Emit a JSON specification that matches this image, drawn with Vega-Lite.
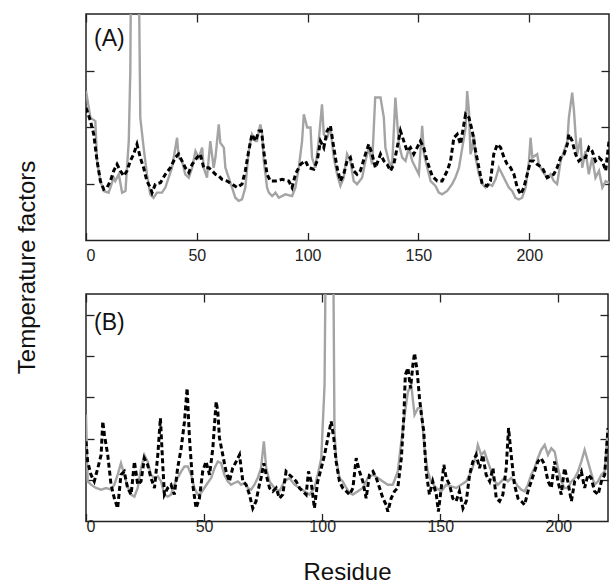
{
  "$schema": "https://vega.github.io/schema/vega-lite/v6.json",
  "background": "white",
  "padding": {"left": 14, "top": 12, "right": 0, "bottom": 0},
  "bounds": "flush",
  "spacing": 53,
  "config": {
    "view": {"stroke": "#222", "strokeWidth": 1.5},
    "font": "Liberation Sans",
    "axis": {"grid": false, "domain": false, "tickSize": -8, "tickColor": "#222", "tickWidth": 1.3, "labelFont": "Liberation Sans", "labelFontSize": 16, "labelColor": "#222", "titleFont": "Liberation Sans", "titleFontWeight": "normal", "titleColor": "#111"}
  },
  "datasets": {
    "A": [
      {"s":"g","r":0,"v":52.8},{"s":"g","r":2,"v":43.4},{"s":"g","r":4.2,"v":42.2},{"s":"g","r":5,"v":28.1},{"s":"g","r":6.5,"v":21.0},{"s":"g","r":8,"v":17.5},{"s":"g","r":10.2,"v":16.9},{"s":"g","r":11,"v":18.7},{"s":"g","r":12.5,"v":22.2},{"s":"g","r":13.2,"v":21.0},{"s":"g","r":14.8,"v":23.4},{"s":"g","r":16.3,"v":16.9},{"s":"g","r":17.8,"v":17.5},{"s":"g","r":19.3,"v":35.1},{"s":"g","r":20,"v":60},{"s":"g","r":20.5,"v":120},{"s":"g","r":23.5,"v":120},{"s":"g","r":24.5,"v":43.4},{"s":"g","r":26,"v":32.8},{"s":"g","r":27.5,"v":23.4},{"s":"g","r":29,"v":16.3},{"s":"g","r":30.5,"v":15.1},{"s":"g","r":32,"v":16.9},{"s":"g","r":34.3,"v":16.9},{"s":"g","r":35.8,"v":18.7},{"s":"g","r":38.8,"v":25.7},{"s":"g","r":41.1,"v":36.3},{"s":"g","r":41.8,"v":29.3},{"s":"g","r":43.3,"v":28.1},{"s":"g","r":44.8,"v":23.4},{"s":"g","r":46.4,"v":22.2},{"s":"g","r":47.9,"v":25.7},{"s":"g","r":49.4,"v":31.6},{"s":"g","r":50.9,"v":29.3},{"s":"g","r":52.4,"v":32.8},{"s":"g","r":53.1,"v":25.7},{"s":"g","r":54.6,"v":22.2},{"s":"g","r":56.1,"v":35.1},{"s":"g","r":57.6,"v":25.7},{"s":"g","r":58.4,"v":29.3},{"s":"g","r":59.9,"v":41.0},{"s":"g","r":60.6,"v":34.5},{"s":"g","r":62.2,"v":32.8},{"s":"g","r":62.9,"v":25.7},{"s":"g","r":64.4,"v":22.2},{"s":"g","r":65.9,"v":18.7},{"s":"g","r":67.4,"v":15.1},{"s":"g","r":68.9,"v":14.0},{"s":"g","r":70.4,"v":14.5},{"s":"g","r":71.9,"v":18.7},{"s":"g","r":73.4,"v":31.6},{"s":"g","r":74.9,"v":37.5},{"s":"g","r":76.5,"v":35.1},{"s":"g","r":77.2,"v":35.1},{"s":"g","r":78,"v":38.7},{"s":"g","r":78.7,"v":41.0},{"s":"g","r":79.5,"v":37.5},{"s":"g","r":80.2,"v":28.1},{"s":"g","r":81,"v":23.4},{"s":"g","r":81.7,"v":18.7},{"s":"g","r":82.5,"v":16.9},{"s":"g","r":84,"v":15.7},{"s":"g","r":85.5,"v":16.9},{"s":"g","r":87,"v":15.1},{"s":"g","r":90,"v":16.3},{"s":"g","r":93,"v":15.7},{"s":"g","r":94.5,"v":18.7},{"s":"g","r":96,"v":25.7},{"s":"g","r":97.5,"v":35.1},{"s":"g","r":98.3,"v":44.6},{"s":"g","r":99.8,"v":39.9},{"s":"g","r":101.3,"v":39.9},{"s":"g","r":102,"v":29.3},{"s":"g","r":103.5,"v":25.7},{"s":"g","r":105,"v":35.1},{"s":"g","r":106.5,"v":48.1},{"s":"g","r":107.3,"v":37.5},{"s":"g","r":108.8,"v":36.3},{"s":"g","r":110.3,"v":39.9},{"s":"g","r":111.8,"v":29.3},{"s":"g","r":113.3,"v":23.4},{"s":"g","r":114.8,"v":19.3},{"s":"g","r":116.3,"v":22.2},{"s":"g","r":117.8,"v":30.5},{"s":"g","r":119.3,"v":28.1},{"s":"g","r":120.8,"v":21.0},{"s":"g","r":122.3,"v":19.9},{"s":"g","r":124.6,"v":22.2},{"s":"g","r":126.1,"v":28.1},{"s":"g","r":127.6,"v":32.8},{"s":"g","r":129.1,"v":26.9},{"s":"g","r":130.5,"v":50.5},{"s":"g","r":132.9,"v":50.5},{"s":"g","r":134.4,"v":43.4},{"s":"g","r":135.1,"v":32.8},{"s":"g","r":136.6,"v":28.1},{"s":"g","r":138.1,"v":25.7},{"s":"g","r":139.6,"v":50.5},{"s":"g","r":141.2,"v":34.0},{"s":"g","r":142.7,"v":29.3},{"s":"g","r":144.2,"v":28.1},{"s":"g","r":145.7,"v":32.8},{"s":"g","r":147.2,"v":28.1},{"s":"g","r":148.7,"v":25.7},{"s":"g","r":150.2,"v":23.4},{"s":"g","r":151.7,"v":40.5},{"s":"g","r":152.5,"v":30.5},{"s":"g","r":154,"v":25.7},{"s":"g","r":155.5,"v":21.0},{"s":"g","r":157.7,"v":19.3},{"s":"g","r":159.2,"v":16.9},{"s":"g","r":160.7,"v":16.3},{"s":"g","r":163,"v":17.5},{"s":"g","r":165.2,"v":19.9},{"s":"g","r":166.7,"v":22.2},{"s":"g","r":168.3,"v":25.7},{"s":"g","r":169.8,"v":32.8},{"s":"g","r":171.3,"v":39.9},{"s":"g","r":172,"v":52.8},{"s":"g","r":172.8,"v":45.8},{"s":"g","r":173.5,"v":30.5},{"s":"g","r":174.3,"v":32.8},{"s":"g","r":175,"v":37.5},{"s":"g","r":175.8,"v":29.3},{"s":"g","r":177.3,"v":23.4},{"s":"g","r":178.8,"v":19.9},{"s":"g","r":180.3,"v":18.7},{"s":"g","r":181.8,"v":19.9},{"s":"g","r":183.3,"v":19.3},{"s":"g","r":184.8,"v":21.6},{"s":"g","r":186.3,"v":25.7},{"s":"g","r":187.8,"v":23.4},{"s":"g","r":189.3,"v":21.0},{"s":"g","r":190.8,"v":18.7},{"s":"g","r":192.3,"v":17.5},{"s":"g","r":193.8,"v":15.1},{"s":"g","r":195.3,"v":14.5},{"s":"g","r":196.8,"v":15.1},{"s":"g","r":198.4,"v":18.7},{"s":"g","r":199.9,"v":28.1},{"s":"g","r":200.6,"v":36.3},{"s":"g","r":201.4,"v":29.3},{"s":"g","r":203.6,"v":30.5},{"s":"g","r":204.4,"v":26.9},{"s":"g","r":205.9,"v":24.6},{"s":"g","r":208.1,"v":22.2},{"s":"g","r":209.6,"v":23.4},{"s":"g","r":211.1,"v":21.0},{"s":"g","r":212.6,"v":19.9},{"s":"g","r":214.2,"v":28.1},{"s":"g","r":215.7,"v":31.6},{"s":"g","r":217.2,"v":35.1},{"s":"g","r":217.9,"v":43.4},{"s":"g","r":219.4,"v":52.2},{"s":"g","r":220.2,"v":45.8},{"s":"g","r":220.9,"v":37.5},{"s":"g","r":221.7,"v":30.5},{"s":"g","r":223.2,"v":36.3},{"s":"g","r":223.9,"v":25.7},{"s":"g","r":225.4,"v":31.6},{"s":"g","r":226.9,"v":23.4},{"s":"g","r":228.4,"v":29.3},{"s":"g","r":229.9,"v":22.2},{"s":"g","r":231.5,"v":24.6},{"s":"g","r":233,"v":18.7},{"s":"g","r":234.5,"v":21.0},{"s":"g","r":236,"v":20.4},
      {"s":"k","r":0,"v":46.9},{"s":"k","r":2,"v":42.2},{"s":"k","r":3.5,"v":37.5},{"s":"k","r":5,"v":28.1},{"s":"k","r":6.5,"v":21.0},{"s":"k","r":8,"v":18.1},{"s":"k","r":9.5,"v":18.7},{"s":"k","r":11,"v":21.0},{"s":"k","r":12.5,"v":24.6},{"s":"k","r":14,"v":26.9},{"s":"k","r":15.5,"v":24.6},{"s":"k","r":17,"v":22.8},{"s":"k","r":18.5,"v":24.6},{"s":"k","r":20,"v":28.1},{"s":"k","r":21.5,"v":30.5},{"s":"k","r":23,"v":34.0},{"s":"k","r":24.5,"v":29.3},{"s":"k","r":26,"v":25.7},{"s":"k","r":27.5,"v":21.0},{"s":"k","r":29,"v":18.7},{"s":"k","r":29.8,"v":16.9},{"s":"k","r":31.3,"v":19.9},{"s":"k","r":33.6,"v":20.4},{"s":"k","r":35.8,"v":23.4},{"s":"k","r":38.1,"v":25.7},{"s":"k","r":40.3,"v":29.3},{"s":"k","r":41.8,"v":30.5},{"s":"k","r":43.3,"v":28.1},{"s":"k","r":44.8,"v":25.7},{"s":"k","r":46.4,"v":24.0},{"s":"k","r":47.9,"v":26.9},{"s":"k","r":50.1,"v":29.3},{"s":"k","r":51.6,"v":30.5},{"s":"k","r":53.1,"v":25.7},{"s":"k","r":55.4,"v":25.7},{"s":"k","r":56.9,"v":24.6},{"s":"k","r":58.4,"v":23.4},{"s":"k","r":59.9,"v":22.8},{"s":"k","r":61.4,"v":21.6},{"s":"k","r":63.7,"v":21.0},{"s":"k","r":65.9,"v":19.9},{"s":"k","r":68.2,"v":18.7},{"s":"k","r":70.4,"v":19.9},{"s":"k","r":71.9,"v":24.6},{"s":"k","r":73.4,"v":31.6},{"s":"k","r":74.9,"v":37.5},{"s":"k","r":76.5,"v":35.1},{"s":"k","r":78,"v":38.7},{"s":"k","r":79.2,"v":38.7},{"s":"k","r":80.2,"v":31.6},{"s":"k","r":81.7,"v":23.4},{"s":"k","r":83.2,"v":21.0},{"s":"k","r":85.5,"v":21.0},{"s":"k","r":88.5,"v":21.6},{"s":"k","r":91.5,"v":21.0},{"s":"k","r":93,"v":18.7},{"s":"k","r":94.5,"v":23.4},{"s":"k","r":96.8,"v":26.9},{"s":"k","r":99,"v":28.1},{"s":"k","r":100.5,"v":25.7},{"s":"k","r":102.8,"v":25.2},{"s":"k","r":104.3,"v":28.1},{"s":"k","r":105.8,"v":35.1},{"s":"k","r":107.3,"v":32.8},{"s":"k","r":108.8,"v":38.7},{"s":"k","r":110.3,"v":40.5},{"s":"k","r":111.8,"v":32.8},{"s":"k","r":113.3,"v":25.7},{"s":"k","r":114.8,"v":21.0},{"s":"k","r":116.3,"v":23.4},{"s":"k","r":117.8,"v":28.1},{"s":"k","r":119.3,"v":29.3},{"s":"k","r":120.8,"v":24.6},{"s":"k","r":122.3,"v":23.4},{"s":"k","r":123.8,"v":24.6},{"s":"k","r":126.1,"v":30.5},{"s":"k","r":127.6,"v":34.0},{"s":"k","r":129.1,"v":30.5},{"s":"k","r":130.6,"v":25.7},{"s":"k","r":132.9,"v":30.5},{"s":"k","r":134.4,"v":28.1},{"s":"k","r":135.9,"v":26.9},{"s":"k","r":137.4,"v":24.6},{"s":"k","r":138.9,"v":26.9},{"s":"k","r":140.4,"v":32.8},{"s":"k","r":141.9,"v":38.7},{"s":"k","r":143.4,"v":35.1},{"s":"k","r":144.9,"v":31.6},{"s":"k","r":146.4,"v":32.8},{"s":"k","r":147.9,"v":30.5},{"s":"k","r":149.4,"v":32.8},{"s":"k","r":150.9,"v":35.1},{"s":"k","r":152.4,"v":32.8},{"s":"k","r":153.9,"v":28.1},{"s":"k","r":156.2,"v":22.8},{"s":"k","r":158.5,"v":21.0},{"s":"k","r":160.7,"v":21.0},{"s":"k","r":163,"v":24.6},{"s":"k","r":164.5,"v":28.1},{"s":"k","r":166,"v":36.3},{"s":"k","r":167.5,"v":37.5},{"s":"k","r":169,"v":34.0},{"s":"k","r":170.5,"v":41.0},{"s":"k","r":171.3,"v":44.6},{"s":"k","r":172.8,"v":43.4},{"s":"k","r":174.3,"v":38.7},{"s":"k","r":175.8,"v":31.6},{"s":"k","r":177.3,"v":25.7},{"s":"k","r":178.8,"v":19.9},{"s":"k","r":181,"v":19.3},{"s":"k","r":182.5,"v":21.0},{"s":"k","r":184,"v":30.5},{"s":"k","r":185.6,"v":34.0},{"s":"k","r":187.1,"v":32.8},{"s":"k","r":188.6,"v":29.3},{"s":"k","r":190.1,"v":26.9},{"s":"k","r":191.6,"v":25.7},{"s":"k","r":193.1,"v":23.4},{"s":"k","r":194.6,"v":18.7},{"s":"k","r":196.1,"v":16.3},{"s":"k","r":197.6,"v":18.7},{"s":"k","r":199.1,"v":23.4},{"s":"k","r":200.6,"v":28.1},{"s":"k","r":202.1,"v":28.1},{"s":"k","r":203.6,"v":26.9},{"s":"k","r":205.9,"v":25.7},{"s":"k","r":208.1,"v":22.2},{"s":"k","r":209.6,"v":22.8},{"s":"k","r":211.1,"v":23.4},{"s":"k","r":212.6,"v":25.7},{"s":"k","r":214.2,"v":29.3},{"s":"k","r":215.7,"v":30.5},{"s":"k","r":217.2,"v":34.0},{"s":"k","r":217.9,"v":37.5},{"s":"k","r":219.4,"v":35.1},{"s":"k","r":220.9,"v":30.5},{"s":"k","r":222.4,"v":28.1},{"s":"k","r":223.9,"v":29.3},{"s":"k","r":225.4,"v":29.3},{"s":"k","r":226.9,"v":32.8},{"s":"k","r":228.4,"v":31.6},{"s":"k","r":229.9,"v":28.1},{"s":"k","r":231.5,"v":29.3},{"s":"k","r":233,"v":28.1},{"s":"k","r":234.5,"v":24.6},{"s":"k","r":236,"v":35.1}
    ],
    "B": [
      {"s":"g","r":0,"v":25.8},{"s":"g","r":0.7,"v":9.7},{"s":"g","r":2.1,"v":8.9},{"s":"g","r":4.2,"v":8.1},{"s":"g","r":6.4,"v":7.7},{"s":"g","r":8.5,"v":8.1},{"s":"g","r":10.6,"v":7.7},{"s":"g","r":12,"v":8.9},{"s":"g","r":13.4,"v":11.3},{"s":"g","r":14.8,"v":14.1},{"s":"g","r":16.2,"v":11.3},{"s":"g","r":17.6,"v":8.5},{"s":"g","r":19.1,"v":6.5},{"s":"g","r":20.5,"v":6.0},{"s":"g","r":21.9,"v":8.1},{"s":"g","r":23.3,"v":12.9},{"s":"g","r":24.7,"v":16.1},{"s":"g","r":26.1,"v":14.5},{"s":"g","r":27.5,"v":11.3},{"s":"g","r":29,"v":10.5},{"s":"g","r":30.4,"v":10.9},{"s":"g","r":31.8,"v":9.7},{"s":"g","r":33.2,"v":6.5},{"s":"g","r":34.6,"v":6.0},{"s":"g","r":36,"v":6.5},{"s":"g","r":37.4,"v":8.9},{"s":"g","r":38.8,"v":10.5},{"s":"g","r":40.3,"v":12.1},{"s":"g","r":41.7,"v":13.3},{"s":"g","r":43.1,"v":13.3},{"s":"g","r":44.5,"v":11.3},{"s":"g","r":45.9,"v":8.1},{"s":"g","r":47.3,"v":6.5},{"s":"g","r":48.7,"v":6.9},{"s":"g","r":50.1,"v":8.1},{"s":"g","r":51.5,"v":9.3},{"s":"g","r":53,"v":10.5},{"s":"g","r":54.4,"v":12.9},{"s":"g","r":55.8,"v":14.5},{"s":"g","r":57.2,"v":14.1},{"s":"g","r":58.6,"v":11.3},{"s":"g","r":60,"v":9.7},{"s":"g","r":61.4,"v":8.9},{"s":"g","r":62.8,"v":9.3},{"s":"g","r":64.3,"v":9.7},{"s":"g","r":65.7,"v":8.9},{"s":"g","r":67.1,"v":9.3},{"s":"g","r":68.5,"v":8.1},{"s":"g","r":69.9,"v":7.7},{"s":"g","r":71.3,"v":8.9},{"s":"g","r":72.7,"v":10.5},{"s":"g","r":74.1,"v":12.9},{"s":"g","r":75.3,"v":19.4},{"s":"g","r":76.3,"v":12.9},{"s":"g","r":77.7,"v":9.7},{"s":"g","r":79.8,"v":8.1},{"s":"g","r":81.9,"v":7.3},{"s":"g","r":84,"v":9.7},{"s":"g","r":86.1,"v":10.5},{"s":"g","r":88.3,"v":8.9},{"s":"g","r":90.4,"v":8.1},{"s":"g","r":92.5,"v":7.3},{"s":"g","r":94.6,"v":6.5},{"s":"g","r":96.7,"v":8.1},{"s":"g","r":98.1,"v":11.3},{"s":"g","r":99.6,"v":15.3},{"s":"g","r":101,"v":33},{"s":"g","r":101.7,"v":80},{"s":"g","r":104.5,"v":80},{"s":"g","r":105.2,"v":21.8},{"s":"g","r":105.9,"v":15.3},{"s":"g","r":107.3,"v":10.5},{"s":"g","r":108.7,"v":9.7},{"s":"g","r":110.2,"v":8.1},{"s":"g","r":111.6,"v":6.9},{"s":"g","r":113,"v":6.5},{"s":"g","r":115.1,"v":7.3},{"s":"g","r":117.2,"v":8.1},{"s":"g","r":119.3,"v":10.5},{"s":"g","r":121.5,"v":11.3},{"s":"g","r":123.6,"v":10.5},{"s":"g","r":125.7,"v":9.7},{"s":"g","r":127.8,"v":8.9},{"s":"g","r":129.9,"v":8.9},{"s":"g","r":132,"v":12.1},{"s":"g","r":133.5,"v":19.4},{"s":"g","r":134.9,"v":25.8},{"s":"g","r":136.3,"v":31.4},{"s":"g","r":137.7,"v":33.0},{"s":"g","r":139.1,"v":25.8},{"s":"g","r":140.5,"v":27.4},{"s":"g","r":141.9,"v":27.4},{"s":"g","r":143.3,"v":17.7},{"s":"g","r":144.7,"v":12.1},{"s":"g","r":146.1,"v":9.7},{"s":"g","r":148.3,"v":8.1},{"s":"g","r":150.4,"v":7.3},{"s":"g","r":152.5,"v":8.9},{"s":"g","r":154.6,"v":8.5},{"s":"g","r":156.7,"v":8.1},{"s":"g","r":158.8,"v":8.9},{"s":"g","r":161,"v":9.7},{"s":"g","r":163.1,"v":12.1},{"s":"g","r":164.5,"v":14.5},{"s":"g","r":165.9,"v":18.5},{"s":"g","r":167.3,"v":16.1},{"s":"g","r":168.7,"v":16.9},{"s":"g","r":170.1,"v":14.5},{"s":"g","r":171.6,"v":12.1},{"s":"g","r":173,"v":9.7},{"s":"g","r":174.4,"v":8.9},{"s":"g","r":175.8,"v":9.7},{"s":"g","r":177.2,"v":10.5},{"s":"g","r":178.6,"v":9.7},{"s":"g","r":180,"v":10.5},{"s":"g","r":181.4,"v":9.7},{"s":"g","r":182.9,"v":8.5},{"s":"g","r":184.3,"v":7.7},{"s":"g","r":185.7,"v":7.3},{"s":"g","r":187.1,"v":8.9},{"s":"g","r":188.5,"v":11.3},{"s":"g","r":189.9,"v":12.9},{"s":"g","r":191.3,"v":15.3},{"s":"g","r":192.7,"v":17.3},{"s":"g","r":194.2,"v":18.5},{"s":"g","r":195.6,"v":16.1},{"s":"g","r":197,"v":17.7},{"s":"g","r":198.4,"v":16.9},{"s":"g","r":199.8,"v":12.9},{"s":"g","r":201.2,"v":9.7},{"s":"g","r":202.6,"v":8.1},{"s":"g","r":204,"v":8.1},{"s":"g","r":205.5,"v":9.7},{"s":"g","r":206.9,"v":10.5},{"s":"g","r":208.3,"v":12.1},{"s":"g","r":209.7,"v":14.5},{"s":"g","r":211.1,"v":17.3},{"s":"g","r":212.5,"v":14.5},{"s":"g","r":213.9,"v":11.7},{"s":"g","r":215.3,"v":8.9},{"s":"g","r":216.8,"v":9.7},{"s":"g","r":218.2,"v":11.3},{"s":"g","r":219.6,"v":12.1},{"s":"g","r":221,"v":22.6},
      {"s":"k","r":0,"v":19.4},{"s":"k","r":0.7,"v":14.5},{"s":"k","r":2.1,"v":11.3},{"s":"k","r":3.5,"v":9.7},{"s":"k","r":5,"v":12.9},{"s":"k","r":6.4,"v":16.1},{"s":"k","r":7.1,"v":24.2},{"s":"k","r":7.8,"v":21.0},{"s":"k","r":9.2,"v":16.1},{"s":"k","r":10.6,"v":8.9},{"s":"k","r":12,"v":5.6},{"s":"k","r":13.4,"v":3.2},{"s":"k","r":14.8,"v":11.3},{"s":"k","r":16.2,"v":12.1},{"s":"k","r":17.6,"v":8.1},{"s":"k","r":19.1,"v":6.5},{"s":"k","r":20.5,"v":14.5},{"s":"k","r":21.9,"v":8.9},{"s":"k","r":23.3,"v":9.7},{"s":"k","r":24.7,"v":15.3},{"s":"k","r":26.1,"v":13.7},{"s":"k","r":27.5,"v":10.5},{"s":"k","r":29,"v":8.1},{"s":"k","r":30.4,"v":16.1},{"s":"k","r":31.5,"v":25.0},{"s":"k","r":32.5,"v":13.7},{"s":"k","r":33.2,"v":6.5},{"s":"k","r":34.6,"v":8.1},{"s":"k","r":36,"v":8.9},{"s":"k","r":37.4,"v":6.5},{"s":"k","r":38.8,"v":12.9},{"s":"k","r":40.3,"v":17.7},{"s":"k","r":41.7,"v":24.2},{"s":"k","r":42.8,"v":32.2},{"s":"k","r":43.8,"v":20.2},{"s":"k","r":45.2,"v":8.9},{"s":"k","r":46.6,"v":3.2},{"s":"k","r":48,"v":5.6},{"s":"k","r":49.4,"v":12.1},{"s":"k","r":50.8,"v":14.5},{"s":"k","r":52.3,"v":11.3},{"s":"k","r":53.7,"v":17.7},{"s":"k","r":55.1,"v":29.0},{"s":"k","r":55.8,"v":26.6},{"s":"k","r":56.5,"v":20.2},{"s":"k","r":57.9,"v":16.1},{"s":"k","r":59.3,"v":12.1},{"s":"k","r":60.7,"v":9.7},{"s":"k","r":62.1,"v":12.9},{"s":"k","r":63.6,"v":14.5},{"s":"k","r":65,"v":16.1},{"s":"k","r":66.4,"v":9.7},{"s":"k","r":67.8,"v":8.9},{"s":"k","r":69.2,"v":6.5},{"s":"k","r":70.6,"v":3.2},{"s":"k","r":72,"v":4.9},{"s":"k","r":73.4,"v":8.9},{"s":"k","r":74.1,"v":10.5},{"s":"k","r":75.3,"v":14.1},{"s":"k","r":76.3,"v":11.3},{"s":"k","r":77.7,"v":8.1},{"s":"k","r":79.1,"v":7.3},{"s":"k","r":80.5,"v":8.1},{"s":"k","r":81.9,"v":5.6},{"s":"k","r":83.3,"v":6.5},{"s":"k","r":84.7,"v":12.1},{"s":"k","r":86.1,"v":11.3},{"s":"k","r":87.6,"v":10.5},{"s":"k","r":89,"v":9.7},{"s":"k","r":90.4,"v":8.1},{"s":"k","r":91.8,"v":7.3},{"s":"k","r":93.2,"v":6.5},{"s":"k","r":94.2,"v":12.1},{"s":"k","r":95.3,"v":9.7},{"s":"k","r":96.7,"v":3.2},{"s":"k","r":98.1,"v":9.7},{"s":"k","r":99.6,"v":12.9},{"s":"k","r":101,"v":16.1},{"s":"k","r":102.4,"v":20.2},{"s":"k","r":103.8,"v":24.2},{"s":"k","r":104.9,"v":20.2},{"s":"k","r":105.9,"v":14.5},{"s":"k","r":107.3,"v":9.7},{"s":"k","r":108.7,"v":8.1},{"s":"k","r":110.2,"v":7.3},{"s":"k","r":111.6,"v":6.5},{"s":"k","r":113,"v":8.1},{"s":"k","r":114.4,"v":15.3},{"s":"k","r":115.8,"v":12.1},{"s":"k","r":117.2,"v":9.7},{"s":"k","r":118.6,"v":5.6},{"s":"k","r":120,"v":11.3},{"s":"k","r":121.5,"v":12.1},{"s":"k","r":122.9,"v":10.5},{"s":"k","r":124.3,"v":8.1},{"s":"k","r":125.7,"v":5.6},{"s":"k","r":127.1,"v":4.0},{"s":"k","r":127.8,"v":2.4},{"s":"k","r":129.2,"v":5.6},{"s":"k","r":130.6,"v":7.3},{"s":"k","r":132,"v":8.1},{"s":"k","r":133.5,"v":15.3},{"s":"k","r":134.6,"v":25.8},{"s":"k","r":135.2,"v":35.5},{"s":"k","r":136.3,"v":37.1},{"s":"k","r":137.4,"v":32.2},{"s":"k","r":138.4,"v":37.9},{"s":"k","r":139.1,"v":40.7},{"s":"k","r":140.2,"v":36.3},{"s":"k","r":141.2,"v":29.8},{"s":"k","r":142,"v":25.8},{"s":"k","r":143,"v":21.8},{"s":"k","r":144,"v":12.1},{"s":"k","r":145.4,"v":6.5},{"s":"k","r":146.8,"v":9.7},{"s":"k","r":148.3,"v":6.5},{"s":"k","r":149.2,"v":2.4},{"s":"k","r":150.4,"v":8.1},{"s":"k","r":151.5,"v":13.7},{"s":"k","r":152.5,"v":10.5},{"s":"k","r":153.9,"v":8.9},{"s":"k","r":155.3,"v":5.6},{"s":"k","r":156.7,"v":4.9},{"s":"k","r":158.1,"v":7.3},{"s":"k","r":159.6,"v":3.2},{"s":"k","r":161,"v":4.9},{"s":"k","r":162.4,"v":11.3},{"s":"k","r":163.8,"v":14.5},{"s":"k","r":165.2,"v":16.1},{"s":"k","r":166.6,"v":12.9},{"s":"k","r":168,"v":16.1},{"s":"k","r":169.4,"v":11.3},{"s":"k","r":170.9,"v":9.7},{"s":"k","r":172.3,"v":12.9},{"s":"k","r":173.7,"v":5.6},{"s":"k","r":175.1,"v":4.9},{"s":"k","r":176.5,"v":6.5},{"s":"k","r":177.9,"v":12.9},{"s":"k","r":178.9,"v":22.6},{"s":"k","r":180,"v":16.1},{"s":"k","r":181.4,"v":8.9},{"s":"k","r":182.9,"v":5.6},{"s":"k","r":184.3,"v":4.9},{"s":"k","r":185.7,"v":4.0},{"s":"k","r":187.1,"v":7.3},{"s":"k","r":188.5,"v":9.7},{"s":"k","r":189.9,"v":12.1},{"s":"k","r":191.3,"v":14.5},{"s":"k","r":192.7,"v":15.3},{"s":"k","r":194.2,"v":13.7},{"s":"k","r":195.6,"v":9.7},{"s":"k","r":197,"v":8.1},{"s":"k","r":198.4,"v":14.5},{"s":"k","r":199.8,"v":9.7},{"s":"k","r":201.2,"v":6.5},{"s":"k","r":202.6,"v":12.9},{"s":"k","r":204,"v":9.7},{"s":"k","r":205.5,"v":4.9},{"s":"k","r":206.9,"v":9.7},{"s":"k","r":208.3,"v":10.5},{"s":"k","r":209.7,"v":12.1},{"s":"k","r":211.1,"v":8.1},{"s":"k","r":212.5,"v":11.3},{"s":"k","r":213.9,"v":10.5},{"s":"k","r":215.3,"v":7.3},{"s":"k","r":216.8,"v":6.5},{"s":"k","r":218.2,"v":9.7},{"s":"k","r":219.6,"v":11.3},{"s":"k","r":221,"v":22.6}
    ]
  },
  "vconcat": [
    {
      "width": 523,
      "height": 226.5,
      "data": {"name": "A"},
      "layer": [
        {
          "transform": [{"filter": "datum.s === 'g'"}],
          "mark": {"type": "line", "color": "#a4a4a4", "strokeWidth": 2.4, "clip": true},
          "encoding": {
            "x": {"field": "r", "type": "quantitative", "scale": {"domain": [0, 236], "nice": false, "zero": false},
                  "axis": {"orient": "bottom", "values": [0, 50, 100, 150, 200], "labelPadding": 15, "title": null}},
            "y": {"field": "v", "type": "quantitative", "scale": {"domain": [0, 80], "nice": false},
                  "axis": {"orient": "left", "values": [20, 40, 60], "labels": false, "title": "Temperature factors",
                           "titleFontSize": 24, "titleAngle": -90, "titleX": -52, "titleY": 253, "titleAlign": "center", "titleBaseline": "alphabetic"}}
          }
        },
        {
          "transform": [{"filter": "datum.s === 'k'"}],
          "mark": {"type": "line", "color": "#000000", "strokeWidth": 3, "strokeDash": [5, 3], "clip": true},
          "encoding": {
            "x": {"field": "r", "type": "quantitative", "scale": {"domain": [0, 236], "nice": false, "zero": false},
                  "axis": {"orient": "top", "values": [0, 50, 100, 150, 200], "labels": false, "title": null}},
            "y": {"field": "v", "type": "quantitative", "scale": {"domain": [0, 80], "nice": false},
                  "axis": {"orient": "right", "values": [20, 40, 60], "labels": false, "title": null}}
          }
        },
        {
          "data": {"values": [{"label": "(A)", "r": 3.6, "v": 68.7}]},
          "mark": {"type": "text", "align": "left", "baseline": "alphabetic", "fontSize": 23, "fontWeight": "normal", "font": "Liberation Sans", "color": "#111"},
          "encoding": {
            "x": {"field": "r", "type": "quantitative", "scale": {"domain": [0, 236], "nice": false, "zero": false}, "axis": null},
            "y": {"field": "v", "type": "quantitative", "scale": {"domain": [0, 80], "nice": false}, "axis": null},
            "text": {"field": "label"}
          }
        }
      ],
      "resolve": {"axis": {"x": "independent", "y": "independent"}}
    },
    {
      "width": 522,
      "height": 227.5,
      "data": {"name": "B"},
      "layer": [
        {
          "transform": [{"filter": "datum.s === 'g'"}],
          "mark": {"type": "line", "color": "#a4a4a4", "strokeWidth": 2.4, "clip": true},
          "encoding": {
            "x": {"field": "r", "type": "quantitative", "scale": {"domain": [0, 221], "nice": false, "zero": false},
                  "axis": {"orient": "bottom", "values": [0, 50, 100, 150, 200], "labelPadding": 5, "title": "Residue",
                           "titleFontSize": 24, "titleX": 261, "titleY": 58, "titleAlign": "center", "titleBaseline": "alphabetic"}},
            "y": {"field": "v", "type": "quantitative", "scale": {"domain": [0, 55], "nice": false},
                  "axis": {"orient": "left", "values": [10, 20, 30, 40, 50], "labels": false, "title": null}}
          }
        },
        {
          "transform": [{"filter": "datum.s === 'k'"}],
          "mark": {"type": "line", "color": "#000000", "strokeWidth": 3, "strokeDash": [5, 3], "clip": true},
          "encoding": {
            "x": {"field": "r", "type": "quantitative", "scale": {"domain": [0, 221], "nice": false, "zero": false},
                  "axis": {"orient": "top", "values": [0, 50, 100, 150, 200], "labels": false, "title": null}},
            "y": {"field": "v", "type": "quantitative", "scale": {"domain": [0, 55], "nice": false},
                  "axis": {"orient": "right", "values": [10, 20, 30, 40, 50], "labels": false, "title": null}}
          }
        },
        {
          "data": {"values": [{"label": "(B)", "r": 3.4, "v": 46.4}]},
          "mark": {"type": "text", "align": "left", "baseline": "alphabetic", "fontSize": 23, "fontWeight": "normal", "font": "Liberation Sans", "color": "#111"},
          "encoding": {
            "x": {"field": "r", "type": "quantitative", "scale": {"domain": [0, 221], "nice": false, "zero": false}, "axis": null},
            "y": {"field": "v", "type": "quantitative", "scale": {"domain": [0, 55], "nice": false}, "axis": null},
            "text": {"field": "label"}
          }
        }
      ],
      "resolve": {"axis": {"x": "independent", "y": "independent"}}
    }
  ]
}
